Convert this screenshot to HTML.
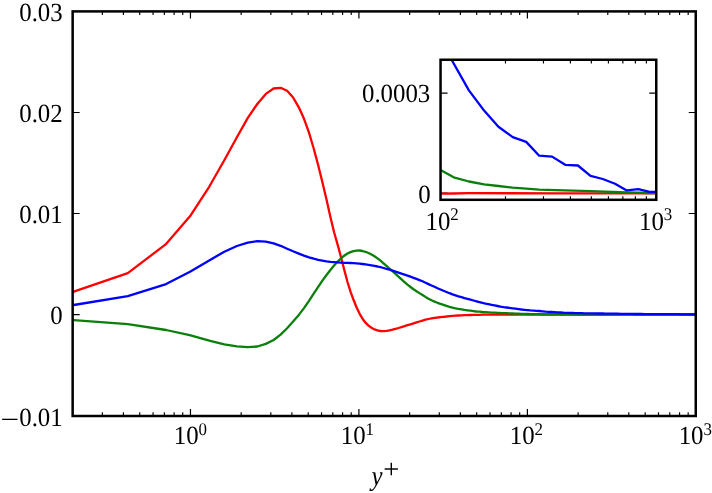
<!DOCTYPE html>
<html><head><meta charset="utf-8"><title>y+ profile</title>
<style>html,body{margin:0;padding:0;background:#fff}svg{display:block}text{font-family:"Liberation Serif",serif;fill:#000;text-rendering:geometricPrecision}</style></head><body>
<svg width="712" height="493" viewBox="0 0 712 493">
<rect width="712" height="493" fill="#fff"/>
<defs><clipPath id="c1"><rect x="72.65" y="11.4" width="623.10" height="404.60"/></clipPath><clipPath id="c2"><rect x="440.55" y="59.75" width="215.70" height="140.05"/></clipPath></defs>
<g stroke="#000" fill="none"><path d="M102.36 416.0v-3.65M102.36 11.4v3.65" stroke-width="1.15"/><path d="M123.41 416.0v-3.65M123.41 11.4v3.65" stroke-width="1.15"/><path d="M139.73 416.0v-3.65M139.73 11.4v3.65" stroke-width="1.15"/><path d="M153.07 416.0v-3.65M153.07 11.4v3.65" stroke-width="1.15"/><path d="M164.35 416.0v-3.65M164.35 11.4v3.65" stroke-width="1.15"/><path d="M174.12 416.0v-3.65M174.12 11.4v3.65" stroke-width="1.15"/><path d="M182.74 416.0v-3.65M182.74 11.4v3.65" stroke-width="1.15"/><path d="M190.45 416.0v-7.0M190.45 11.4v7.0" stroke-width="1.2"/><path d="M241.17 416.0v-3.65M241.17 11.4v3.65" stroke-width="1.15"/><path d="M270.83 416.0v-3.65M270.83 11.4v3.65" stroke-width="1.15"/><path d="M291.88 416.0v-3.65M291.88 11.4v3.65" stroke-width="1.15"/><path d="M308.21 416.0v-3.65M308.21 11.4v3.65" stroke-width="1.15"/><path d="M321.55 416.0v-3.65M321.55 11.4v3.65" stroke-width="1.15"/><path d="M332.83 416.0v-3.65M332.83 11.4v3.65" stroke-width="1.15"/><path d="M342.60 416.0v-3.65M342.60 11.4v3.65" stroke-width="1.15"/><path d="M351.22 416.0v-3.65M351.22 11.4v3.65" stroke-width="1.15"/><path d="M358.92 416.0v-7.0M358.92 11.4v7.0" stroke-width="1.2"/><path d="M409.64 416.0v-3.65M409.64 11.4v3.65" stroke-width="1.15"/><path d="M439.31 416.0v-3.65M439.31 11.4v3.65" stroke-width="1.15"/><path d="M460.36 416.0v-3.65M460.36 11.4v3.65" stroke-width="1.15"/><path d="M476.68 416.0v-3.65M476.68 11.4v3.65" stroke-width="1.15"/><path d="M490.02 416.0v-3.65M490.02 11.4v3.65" stroke-width="1.15"/><path d="M501.30 416.0v-3.65M501.30 11.4v3.65" stroke-width="1.15"/><path d="M511.07 416.0v-3.65M511.07 11.4v3.65" stroke-width="1.15"/><path d="M519.69 416.0v-3.65M519.69 11.4v3.65" stroke-width="1.15"/><path d="M527.40 416.0v-7.0M527.40 11.4v7.0" stroke-width="1.2"/><path d="M578.12 416.0v-3.65M578.12 11.4v3.65" stroke-width="1.15"/><path d="M607.78 416.0v-3.65M607.78 11.4v3.65" stroke-width="1.15"/><path d="M628.83 416.0v-3.65M628.83 11.4v3.65" stroke-width="1.15"/><path d="M645.16 416.0v-3.65M645.16 11.4v3.65" stroke-width="1.15"/><path d="M658.50 416.0v-3.65M658.50 11.4v3.65" stroke-width="1.15"/><path d="M669.78 416.0v-3.65M669.78 11.4v3.65" stroke-width="1.15"/><path d="M679.55 416.0v-3.65M679.55 11.4v3.65" stroke-width="1.15"/><path d="M688.17 416.0v-3.65M688.17 11.4v3.65" stroke-width="1.15"/><path d="M72.65 314.55h7.0M695.75 314.55h-7.0" stroke-width="1.2"/><path d="M72.65 213.52h7.0M695.75 213.52h-7.0" stroke-width="1.2"/><path d="M72.65 112.49h7.0M695.75 112.49h-7.0" stroke-width="1.2"/></g>
<g clip-path="url(#c1)" fill="none" stroke-width="2.3" stroke-linejoin="round">
<polyline stroke="#ff0000" points="60.0,296.4 73.7,291.7 127.8,273.1 165.6,244.4 190.6,215.4 209.2,186.8 224.3,160.3 236.9,137.2 247.8,117.9 257.3,104.0 265.8,93.9 273.6,88.5 280.6,87.8 287.1,90.8 293.1,97.5 298.8,107.3 304.0,118.8 309.0,132.6 313.7,148.5 318.2,165.2 322.4,182.2 326.5,199.6 330.4,217.0 334.1,232.3 337.7,244.9 341.1,257.5 344.5,270.8 347.5,282.0 350.5,291.6 353.5,299.8 356.5,307.2 359.5,313.6 362.5,318.7 365.5,322.7 368.5,325.6 371.5,327.8 374.5,329.4 377.5,330.4 380.5,331.0 383.5,331.1 386.5,330.8 389.5,330.3 392.5,329.6 395.5,328.8 398.5,328.0 401.5,327.1 404.5,326.2 407.5,325.2 410.5,324.3 413.5,323.4 416.5,322.4 419.5,321.5 422.5,320.6 425.5,319.7 428.5,319.0 431.5,318.3 434.5,317.8 437.5,317.5 440.5,317.1 443.5,316.8 446.5,316.5 449.5,316.1 452.5,315.9 455.5,315.7 458.5,315.5 461.5,315.4 464.5,315.2 467.5,315.1 470.5,315.0 473.5,314.9 476.5,314.8 479.5,314.8 482.5,314.7 485.5,314.7 488.5,314.6 491.5,314.6 494.5,314.6 497.5,314.6 500.5,314.6 503.5,314.6 506.5,314.5 509.5,314.5 512.5,314.5 515.5,314.5 518.5,314.5 521.5,314.5 524.5,314.5 527.5,314.5 530.5,314.5 533.5,314.5 536.5,314.5 539.5,314.5 542.5,314.5 545.5,314.5 548.5,314.5 551.5,314.5 554.5,314.5 557.5,314.5 560.5,314.5 563.5,314.5 566.5,314.5 569.5,314.5 572.5,314.5 575.5,314.5 578.5,314.5 581.5,314.5 584.5,314.5 587.5,314.5 590.5,314.5 593.5,314.5 596.5,314.5 599.5,314.5 602.5,314.5 605.5,314.5 608.5,314.5 611.5,314.5 614.5,314.5 617.5,314.5 620.5,314.5 623.5,314.5 626.5,314.5 629.5,314.5 632.5,314.5 635.5,314.5 638.5,314.5 641.5,314.5 644.5,314.5 647.5,314.5 650.5,314.5 653.5,314.5 656.5,314.5 659.5,314.5 662.5,314.5 665.5,314.5 668.5,314.5 671.5,314.5 674.5,314.5 677.5,314.5 680.5,314.5 683.5,314.5 686.5,314.5 689.5,314.5 692.5,314.5 695.5,314.5 696.0,314.5"/>
<polyline stroke="#0a800a" points="60.0,319.2 73.7,320.2 127.8,324.1 166.1,330.0 189.7,335.2 209.3,340.7 209.2,340.7 224.3,344.3 236.9,346.4 247.8,347.2 257.3,346.5 265.8,343.9 273.6,340.0 280.6,334.6 287.1,328.2 293.1,321.6 298.8,314.9 304.0,308.1 309.0,300.8 313.7,293.6 318.2,286.8 322.4,280.6 326.5,275.0 330.4,270.0 334.1,265.6 337.7,261.6 341.1,258.2 344.5,255.5 347.5,253.5 350.5,252.1 353.5,251.1 356.5,250.6 359.5,250.5 362.5,251.0 365.5,251.8 368.5,253.0 371.5,254.5 374.5,256.3 377.5,258.4 380.5,260.7 383.5,263.3 386.5,265.9 389.5,268.5 392.5,271.2 395.5,273.9 398.5,276.7 401.5,279.4 404.5,282.1 407.5,284.7 410.5,287.0 413.5,289.2 416.5,291.2 419.5,293.1 422.5,295.0 425.5,296.9 428.5,298.7 431.5,300.3 434.5,301.6 437.5,302.8 440.5,303.9 443.5,304.9 446.5,305.9 449.5,306.8 452.5,307.6 455.5,308.3 458.5,308.9 461.5,309.4 464.5,309.9 467.5,310.3 470.5,310.7 473.5,311.1 476.5,311.5 479.5,311.7 482.5,312.0 485.5,312.2 488.5,312.4 491.5,312.6 494.5,312.7 497.5,312.8 500.5,313.0 503.5,313.1 506.5,313.2 509.5,313.4 512.5,313.5 515.5,313.6 518.5,313.7 521.5,313.8 524.5,313.9 527.5,314.0 530.5,314.1 533.5,314.1 536.5,314.2 539.5,314.2 542.5,314.3 545.5,314.3 548.5,314.3 551.5,314.4 554.5,314.4 557.5,314.4 560.5,314.4 563.5,314.4 566.5,314.4 569.5,314.4 572.5,314.4 575.5,314.4 578.5,314.5 581.5,314.5 584.5,314.5 587.5,314.5 590.5,314.5 593.5,314.5 596.5,314.5 599.5,314.5 602.5,314.5 605.5,314.5 608.5,314.5 611.5,314.5 614.5,314.5 617.5,314.5 620.5,314.5 623.5,314.5 626.5,314.5 629.5,314.5 632.5,314.5 635.5,314.5 638.5,314.5 641.5,314.5 644.5,314.5 647.5,314.5 650.5,314.5 653.5,314.5 656.5,314.5 659.5,314.5 662.5,314.5 665.5,314.5 668.5,314.5 671.5,314.5 674.5,314.5 677.5,314.5 680.5,314.5 683.5,314.5 686.5,314.5 689.5,314.5 692.5,314.5 695.5,314.5 696.0,314.5"/>
<polyline stroke="#0000ff" points="60.0,307.2 73.7,305.0 127.8,296.2 166.1,284.1 190.0,271.8 209.2,260.4 224.3,251.7 236.9,246.0 247.8,242.6 257.3,241.1 265.8,241.6 273.6,243.3 280.6,245.8 287.1,248.7 293.1,251.3 298.8,253.6 304.0,255.6 309.0,257.3 313.7,258.7 318.2,259.8 322.4,260.6 326.5,261.3 330.4,261.8 334.1,262.1 337.7,262.4 341.1,262.6 344.5,262.8 347.5,262.9 350.5,263.0 353.5,263.2 356.5,263.4 359.5,263.7 362.5,264.0 365.5,264.4 368.5,264.8 371.5,265.3 374.5,265.9 377.5,266.5 380.5,267.2 383.5,268.0 386.5,268.8 389.5,269.7 392.5,270.6 395.5,271.6 398.5,272.6 401.5,273.7 404.5,274.7 407.5,275.7 410.5,276.7 413.5,277.8 416.5,278.9 419.5,280.1 422.5,281.3 425.5,282.7 428.5,284.1 431.5,285.5 434.5,286.8 437.5,288.2 440.5,289.5 443.5,290.8 446.5,292.0 449.5,293.2 452.5,294.3 455.5,295.3 458.5,296.3 461.5,297.2 464.5,298.1 467.5,298.9 470.5,299.7 473.5,300.5 476.5,301.3 479.5,302.1 482.5,302.9 485.5,303.6 488.5,304.2 491.5,304.8 494.5,305.4 497.5,306.0 500.5,306.6 503.5,307.1 506.5,307.5 509.5,307.9 512.5,308.3 515.5,308.7 518.5,309.1 521.5,309.5 524.5,309.8 527.5,310.1 530.5,310.4 533.5,310.6 536.5,310.8 539.5,311.0 542.5,311.3 545.5,311.6 548.5,311.8 551.5,312.0 554.5,312.2 557.5,312.4 560.5,312.5 563.5,312.7 566.5,312.8 569.5,312.9 572.5,313.0 575.5,313.1 578.5,313.1 581.5,313.2 584.5,313.3 587.5,313.3 590.5,313.4 593.5,313.4 596.5,313.5 599.5,313.5 602.5,313.5 605.5,313.6 608.5,313.6 611.5,313.7 614.5,313.7 617.5,313.7 620.5,313.8 623.5,313.8 626.5,313.9 629.5,313.9 632.5,313.9 635.5,314.0 638.5,314.0 641.5,314.0 644.5,314.1 647.5,314.1 650.5,314.1 653.5,314.1 656.5,314.1 659.5,314.2 662.5,314.2 665.5,314.2 668.5,314.2 671.5,314.2 674.5,314.2 677.5,314.2 680.5,314.3 683.5,314.3 686.5,314.3 689.5,314.3 692.5,314.3 695.5,314.3 696.0,314.3"/>
</g>
<rect x="72.65" y="11.4" width="623.10" height="404.60" fill="none" stroke="#000" stroke-width="2.5"/>
<rect x="440.55" y="59.75" width="215.70" height="140.05" fill="#fff"/>
<g stroke="#000" fill="none"><path d="M505.48 199.8v-3.65M505.48 59.75v3.65" stroke-width="1.15"/><path d="M543.47 199.8v-3.65M543.47 59.75v3.65" stroke-width="1.15"/><path d="M570.41 199.8v-3.65M570.41 59.75v3.65" stroke-width="1.15"/><path d="M591.32 199.8v-3.65M591.32 59.75v3.65" stroke-width="1.15"/><path d="M608.40 199.8v-3.65M608.40 59.75v3.65" stroke-width="1.15"/><path d="M622.84 199.8v-3.65M622.84 59.75v3.65" stroke-width="1.15"/><path d="M635.35 199.8v-3.65M635.35 59.75v3.65" stroke-width="1.15"/><path d="M646.38 199.8v-3.65M646.38 59.75v3.65" stroke-width="1.15"/><path d="M440.55 193.13h7.0M656.25 193.13h-7.0" stroke-width="1.2"/><path d="M440.55 93.08h7.0M656.25 93.08h-7.0" stroke-width="1.2"/></g>
<g clip-path="url(#c2)" fill="none" stroke-width="2.3" stroke-linejoin="round">
<polyline stroke="#ff0000" points="440.0,193.6 453.7,193.5 468.9,193.2 560.0,193.3 657.0,193.4"/>
<polyline stroke="#0a800a" points="441.0,170.2 453.7,177.3 468.9,181.5 484.1,184.4 498.4,186.0 512.7,187.7 526.2,188.7 539.2,189.6 556.0,190.1 590.5,191.1 626.8,192.4 649.6,193.0 657.0,193.1"/>
<polyline stroke="#0000ff" points="441.0,40.0 452.0,60.5 468.9,90.4 484.1,110.6 498.4,126.7 512.7,137.1 526.2,141.9 539.2,155.7 552.1,156.6 565.2,164.8 577.9,165.5 590.5,175.9 602.8,179.0 615.0,183.7 626.8,190.4 638.3,189.1 649.6,191.9 657.0,191.9"/>
</g>
<rect x="440.55" y="59.75" width="215.70" height="140.05" fill="none" stroke="#000" stroke-width="2.5"/>
<text transform="translate(62.70 20.98) scale(0.949 1)" text-anchor="end" font-size="26.2">0.03</text>
<text transform="translate(62.70 122.18) scale(0.949 1)" text-anchor="end" font-size="26.2">0.02</text>
<text transform="translate(62.70 223.38) scale(0.949 1)" text-anchor="end" font-size="26.2">0.01</text>
<text transform="translate(62.70 324.48) scale(0.949 1)" text-anchor="end" font-size="26.2">0</text>
<text transform="translate(62.70 425.68) scale(0.949 1)" text-anchor="end" font-size="26.2">0.01</text>
<text transform="translate(0.40 427.63) scale(1.27 1)" text-anchor="start" font-size="26.0">−</text>
<text transform="translate(430.30 102.38) scale(0.949 1)" text-anchor="end" font-size="26.2">0.0003</text>
<text transform="translate(430.60 202.68) scale(0.949 1)" text-anchor="end" font-size="26.2">0</text>
<text transform="translate(173.84 444.35) scale(0.949 1)" text-anchor="start" font-size="26.2">10</text><text transform="translate(198.61 434.71) scale(0.949 1)" text-anchor="start" font-size="17.82">0</text>
<text transform="translate(340.72 444.35) scale(0.949 1)" text-anchor="start" font-size="26.2">10</text><text transform="translate(365.48 434.71) scale(0.949 1)" text-anchor="start" font-size="17.82">1</text>
<text transform="translate(509.79 444.35) scale(0.949 1)" text-anchor="start" font-size="26.2">10</text><text transform="translate(534.56 434.71) scale(0.949 1)" text-anchor="start" font-size="17.82">2</text>
<text transform="translate(678.67 444.35) scale(0.949 1)" text-anchor="start" font-size="26.2">10</text><text transform="translate(703.43 434.71) scale(0.949 1)" text-anchor="start" font-size="17.82">3</text>
<text transform="translate(425.54 229.50) scale(0.949 1)" text-anchor="start" font-size="26.2">10</text><text transform="translate(450.31 219.86) scale(0.949 1)" text-anchor="start" font-size="17.82">2</text>
<text transform="translate(639.04 229.50) scale(0.949 1)" text-anchor="start" font-size="26.2">10</text><text transform="translate(663.81 219.86) scale(0.949 1)" text-anchor="start" font-size="17.82">3</text>
<text transform="translate(371.50 484.65) scale(0.895 1)" text-anchor="start" font-size="27.8" font-style="italic">y</text>
<text transform="translate(383.13 478.30) scale(1.055 1)" text-anchor="start" font-size="27">+</text>
</svg></body></html>
